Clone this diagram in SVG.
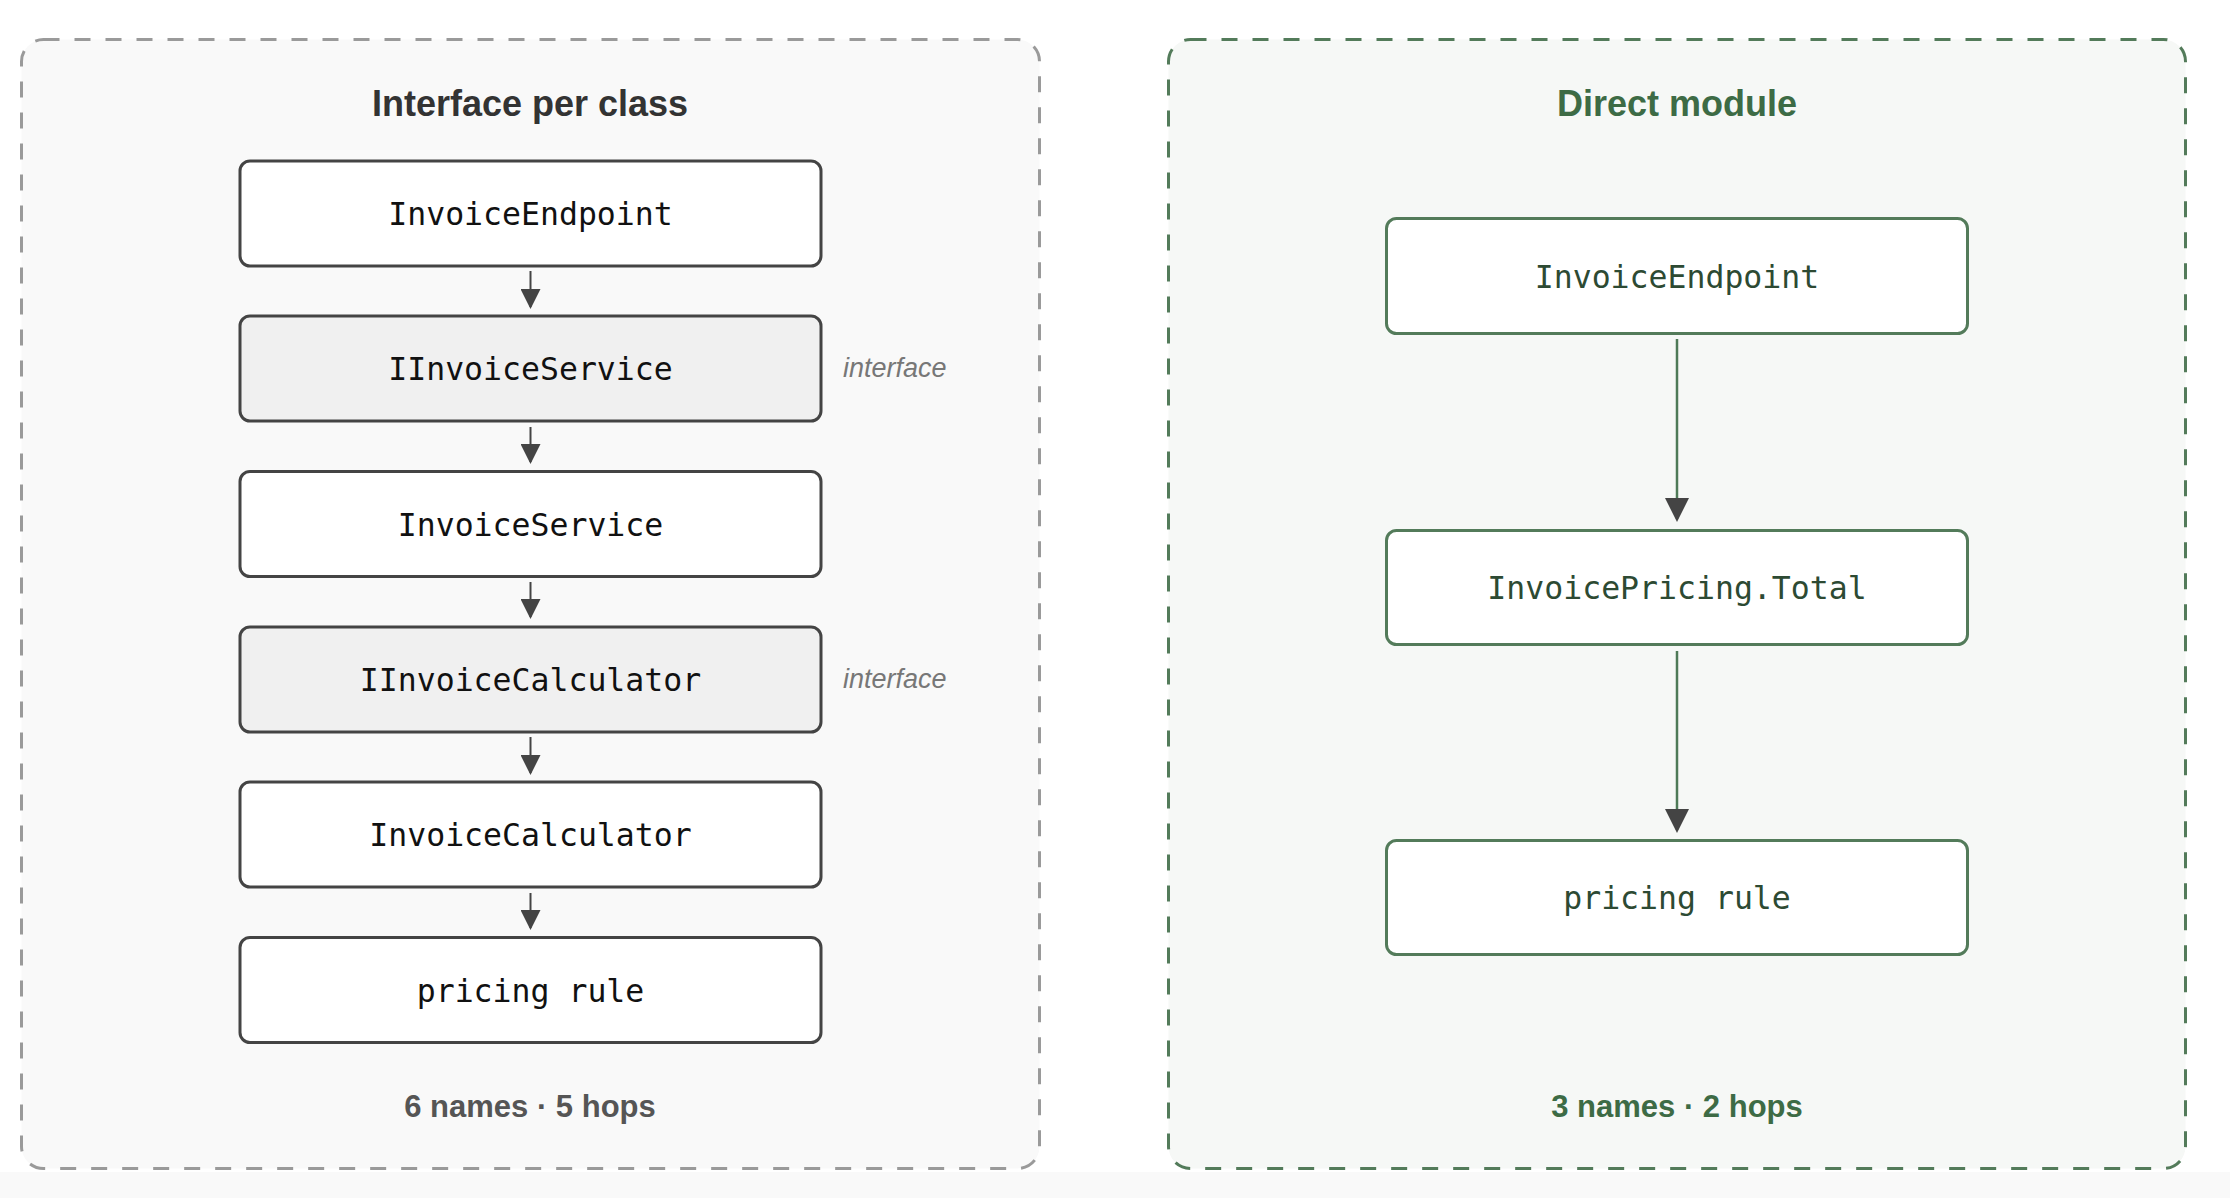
<svg xmlns="http://www.w3.org/2000/svg" width="2230" height="1198" viewBox="0 0 2230 1198">
  <defs>
    <style>
      .panel-l { fill: #f9f9f9; stroke: #9a9a9a; stroke-width: 3; stroke-dasharray: 16 15; }
      .panel-r { fill: #f6f8f6; stroke: #537b5a; stroke-width: 3; stroke-dasharray: 16 15; }
      .title { font-family: "Liberation Sans", Arial, sans-serif; font-weight: bold; font-size: 36px; text-anchor: middle; }
      .foot { font-family: "Liberation Sans", Arial, sans-serif; font-weight: bold; font-size: 31px; text-anchor: middle; }
      .node-l { fill: #ffffff; stroke: #444444; stroke-width: 3; }
      .node-i { fill: #f0f0f0; stroke: #444444; stroke-width: 3; }
      .node-r { fill: #ffffff; stroke: #537b5a; stroke-width: 3; }
      .mono { font-family: "DejaVu Sans Mono", "Liberation Mono", monospace; font-size: 31.5px; text-anchor: middle; }
      .note { font-family: "Liberation Sans", Arial, sans-serif; font-style: italic; font-size: 27px; fill: #777777; }
      .edge-l { stroke: #444444; stroke-width: 2; fill: none; }
      .edge-r { stroke: #4e7a57; stroke-width: 2.5; fill: none; }
    </style>
    <marker id="headL" markerUnits="userSpaceOnUse" markerWidth="20" markerHeight="20" refX="18" refY="10" orient="auto">
      <path d="M0,0 L20,10 L0,20 Z" fill="#444444"/>
    </marker>
    <marker id="headR" markerUnits="userSpaceOnUse" markerWidth="24" markerHeight="24" refX="21" refY="12" orient="auto">
      <path d="M0,0 L24,12 L0,24 Z" fill="#444444"/>
    </marker>
  </defs>

  <rect x="0" y="0" width="2230" height="1198" fill="#ffffff"/>
  <rect x="0" y="1172" width="2230" height="26" fill="#f9f9f9"/>

  <g id="panel-interface">
    <rect class="panel-l" x="21.5" y="39.5" width="1018" height="1129" rx="22"/>
    <text class="title" x="530" y="116" fill="#333333">Interface per class</text>
    <text class="foot" x="530" y="1117" fill="#555555">6 names · 5 hops</text>
  </g>

  <g id="panel-direct">
    <rect class="panel-r" x="1168.5" y="39.5" width="1017" height="1129" rx="22"/>
    <text class="title" x="1677" y="116" fill="#3d6b45">Direct module</text>
    <text class="foot" x="1677" y="1117" fill="#3d6b45">3 names · 2 hops</text>
  </g>

  <g id="connectors">
    <path class="edge-l" d="M530.5,271 V307" marker-end="url(#headL)"/>
    <path class="edge-l" d="M530.5,427 V462" marker-end="url(#headL)"/>
    <path class="edge-l" d="M530.5,582 V617" marker-end="url(#headL)"/>
    <path class="edge-l" d="M530.5,737 V773" marker-end="url(#headL)"/>
    <path class="edge-l" d="M530.5,893 V928" marker-end="url(#headL)"/>
    <path class="edge-r" d="M1677,339 V519" marker-end="url(#headR)"/>
    <path class="edge-r" d="M1677,651 V830" marker-end="url(#headR)"/>
  </g>

  <g id="l-endpoint">
    <rect class="node-l" x="240" y="161" width="581" height="105" rx="10"/>
    <text class="mono" x="530.5" y="225" fill="#111111">InvoiceEndpoint</text>
  </g>
  <g id="l-iinvoiceservice">
    <rect class="node-i" x="240" y="316" width="581" height="105" rx="10"/>
    <text class="mono" x="530.5" y="380" fill="#111111">IInvoiceService</text>
    <text class="note" x="843" y="377">interface</text>
  </g>
  <g id="l-invoiceservice">
    <rect class="node-l" x="240" y="471.5" width="581" height="105" rx="10"/>
    <text class="mono" x="530.5" y="535.5" fill="#111111">InvoiceService</text>
  </g>
  <g id="l-iinvoicecalculator">
    <rect class="node-i" x="240" y="627" width="581" height="105" rx="10"/>
    <text class="mono" x="530.5" y="691" fill="#111111">IInvoiceCalculator</text>
    <text class="note" x="843" y="688">interface</text>
  </g>
  <g id="l-invoicecalculator">
    <rect class="node-l" x="240" y="782" width="581" height="105" rx="10"/>
    <text class="mono" x="530.5" y="846" fill="#111111">InvoiceCalculator</text>
  </g>
  <g id="l-pricingrule">
    <rect class="node-l" x="240" y="937.5" width="581" height="105" rx="10"/>
    <text class="mono" x="530.5" y="1001.5" fill="#111111">pricing rule</text>
  </g>

  <g id="r-endpoint">
    <rect class="node-r" x="1386.5" y="218.5" width="581" height="115" rx="10"/>
    <text class="mono" x="1677" y="288" fill="#2d4a33">InvoiceEndpoint</text>
  </g>
  <g id="r-pricingtotal">
    <rect class="node-r" x="1386.5" y="530.5" width="581" height="114" rx="10"/>
    <text class="mono" x="1677" y="599" fill="#2d4a33">InvoicePricing.Total</text>
  </g>
  <g id="r-pricingrule">
    <rect class="node-r" x="1386.5" y="840.5" width="581" height="114" rx="10"/>
    <text class="mono" x="1677" y="909" fill="#2d4a33">pricing rule</text>
  </g>
</svg>
